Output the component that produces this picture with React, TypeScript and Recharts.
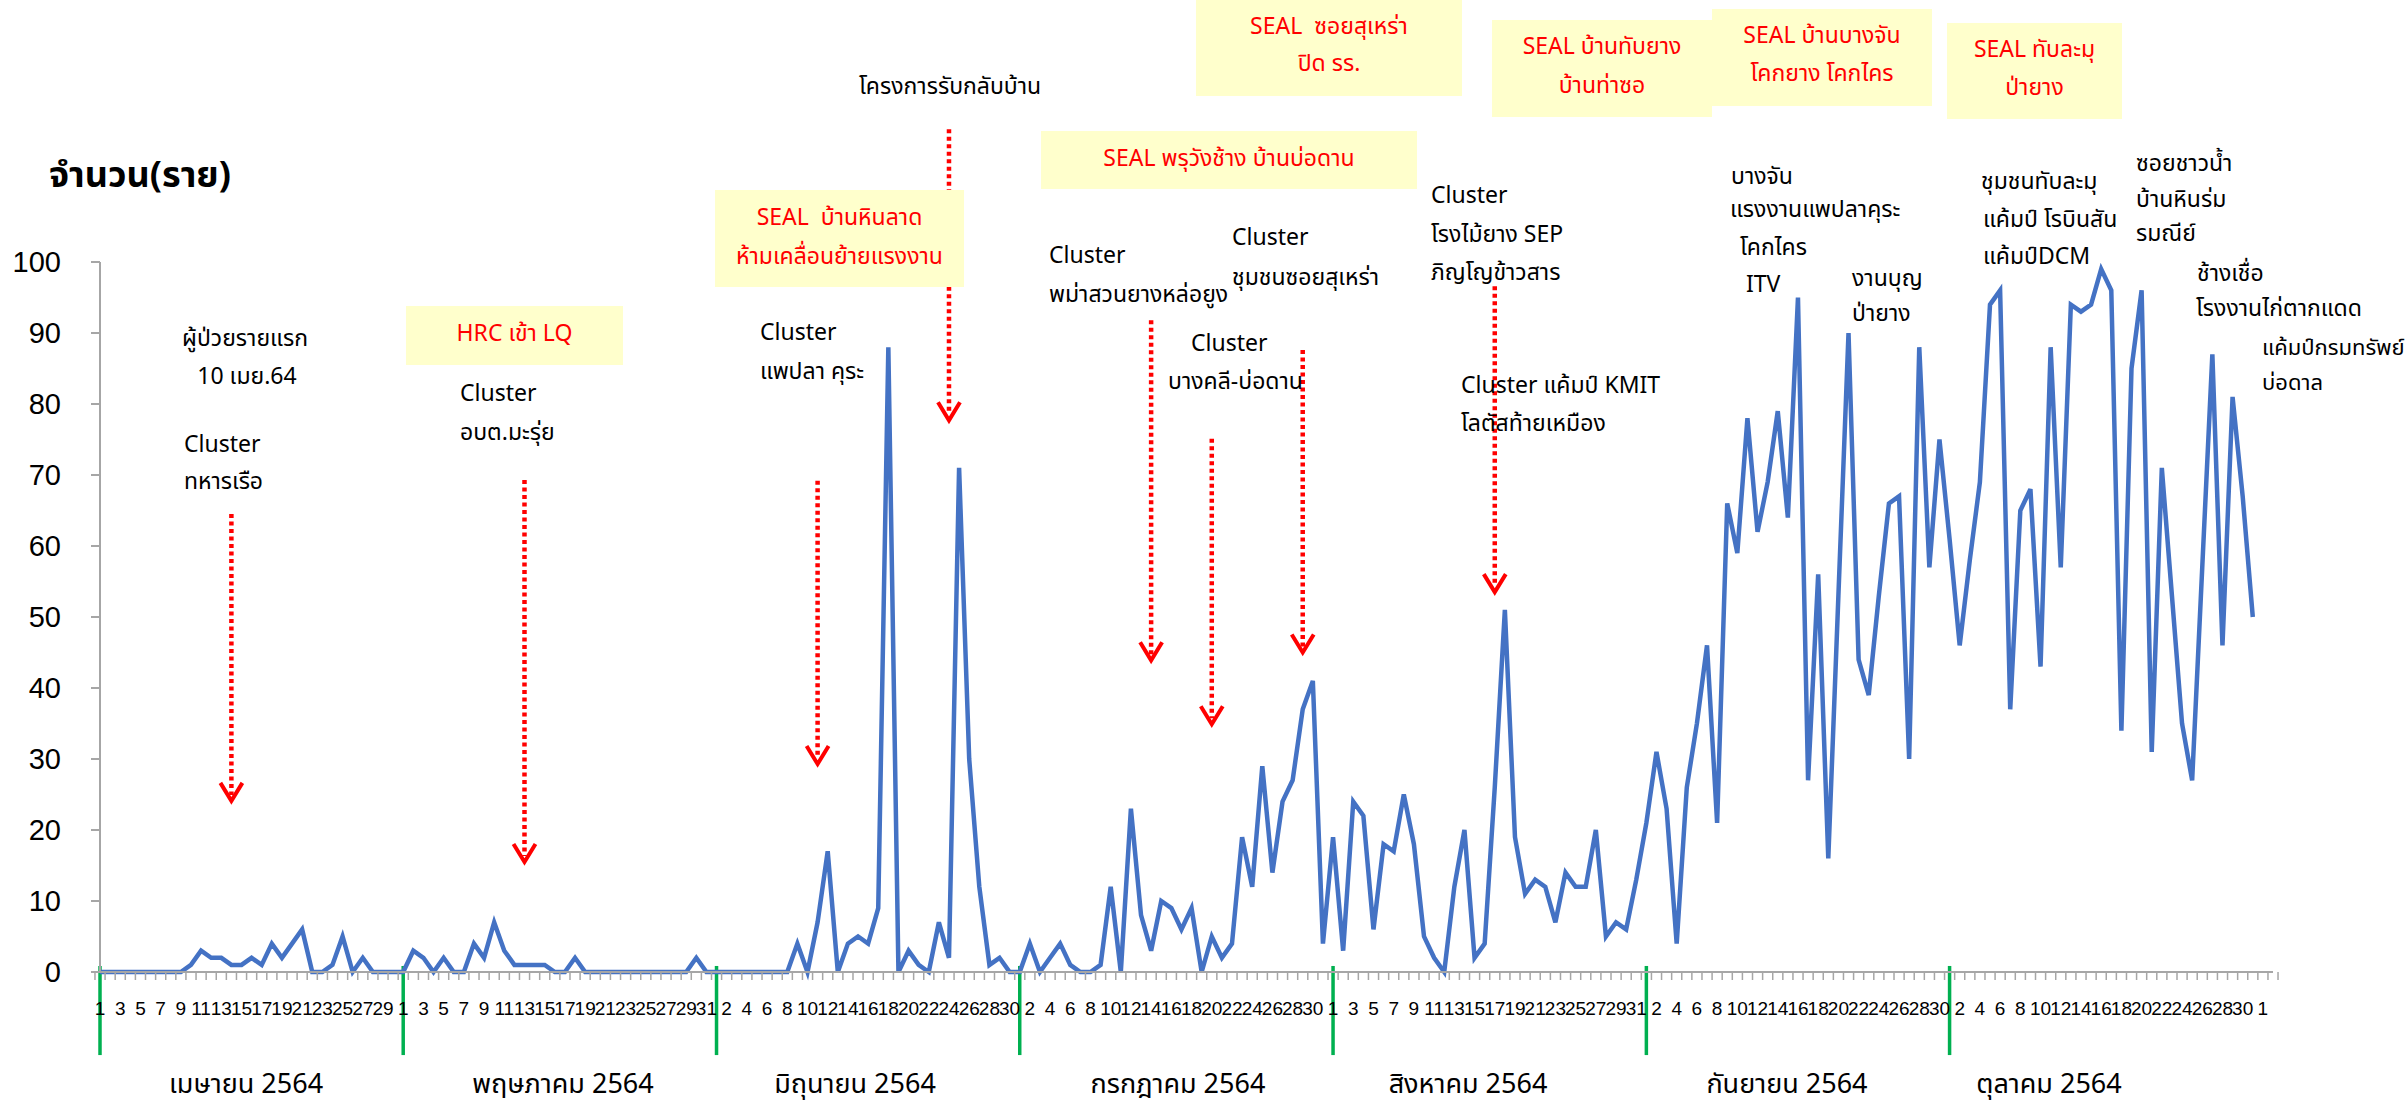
import React from 'react';
import { LineChart, Line, XAxis, YAxis, ReferenceLine } from 'recharts';

const W = 2405;
const H = 1109;
const FONT = "Tahoma, 'Leelawadee UI', 'Noto Sans Thai', 'Noto Sans', 'DejaVu Sans', sans-serif";
const NUM_FONT = "'Liberation Sans', Arial, sans-serif";
const AXIS_GREY = '#a6a6a6';
const RED = '#ff0000';
const LINE_BLUE = '#4472C4';
const GREEN = '#00B050';
const NOTE_BG = '#ffffcc';

// daily new cases, one array per month (Apr - Nov 2564)
const APR = [0, 0, 0, 0, 0, 0, 0, 0, 0, 1, 3, 2, 2, 1, 1, 2, 1, 4, 2, 4, 6, 0, 0, 1, 5, 0, 2, 0, 0, 0];
const MAY = [0, 3, 2, 0, 2, 0, 0, 4, 2, 7, 3, 1, 1, 1, 1, 0, 0, 2, 0, 0, 0, 0, 0, 0, 0, 0, 0, 0, 0, 2, 0];
const JUN = [0, 0, 0, 0, 0, 0, 0, 0, 4, 0, 7, 17, 0, 4, 5, 4, 9, 88, 0, 3, 1, 0, 7, 2, 71, 30, 12, 1, 2, 0];
const JUL = [0, 4, 0, 2, 4, 1, 0, 0, 1, 12, 0, 23, 8, 3, 10, 9, 6, 9, 0, 5, 2, 4, 19, 12, 29, 14, 24, 27, 37, 41, 4];
const AUG = [19, 3, 24, 22, 6, 18, 17, 25, 18, 5, 2, 0, 12, 20, 2, 4, 26, 51, 19, 11, 13, 12, 7, 14, 12, 12, 20, 5, 7, 6, 13];
const SEP = [21, 31, 23, 4, 26, 35, 46, 21, 66, 59, 78, 62, 69, 79, 64, 95, 27, 56, 16, 53, 90, 44, 39, 53, 66, 67, 30, 88, 57, 75];
const OCT = [61, 46, 58, 69, 94, 96, 37, 65, 68, 43, 88, 57, 94, 93, 94, 99, 96, 34, 85, 96, 31, 71, 53, 35, 27, 57, 87, 46, 81, 67, 50];
const NOV = [null, null];

const MONTH_NUMS = [4, 5, 6, 7, 8, 9, 10, 11];
const MONTH_SERIES: (number | null)[][] = [APR, MAY, JUN, JUL, AUG, SEP, OCT, NOV];
const MONTH_LABELS = ['เมษายน 2564', 'พฤษภาคม 2564', 'มิถุนายน 2564', 'กรกฎาคม 2564', 'สิงหาคม 2564', 'กันยายน 2564', 'ตุลาคม 2564'];
const MONTH_LABEL_X = [246, 563, 855, 1178, 1468, 1787, 2049];
const Y_TICKS = [0, 10, 20, 30, 40, 50, 60, 70, 80, 90, 100];

// dotted red arrows: category key, top value, tip value
const ARROWS = [
    { key: '4-14', from: 64.5, to: 24.1 },
    { key: '5-13', from: 69.3, to: 15.5 },
    { key: '6-11', from: 69.2, to: 29.3 },
    { key: '6-24', from: 118.7, to: 77.7 },
    { key: '7-14', from: 91.8, to: 43.9 },
    { key: '7-20', from: 75.1, to: 34.9 },
    { key: '7-29', from: 87.6, to: 45 },
    { key: '8-17', from: 96.6, to: 53.5 },
];

// yellow event boxes (red text)
const EVENT_BOXES = [
    { x: 406, y: 306, w: 217, h: 59, lines: ['HRC เข้า LQ'], ys: [334] },
    { x: 715, y: 190, w: 249, h: 97, lines: ['SEAL  บ้านหินลาด', 'ห้ามเคลื่อนย้ายแรงงาน'], ys: [218, 257] },
    { x: 1041, y: 131, w: 376, h: 58, lines: ['SEAL พรุวังช้าง บ้านบ่อดาน'], ys: [159] },
    { x: 1196, y: 0, w: 266, h: 96, lines: ['SEAL  ซอยสุเหร่า', 'ปิด รร.'], ys: [27, 64] },
    { x: 1492, y: 20, w: 220, h: 97, lines: ['SEAL บ้านทับยาง', 'บ้านท่าซอ'], ys: [47, 86] },
    { x: 1712, y: 9, w: 220, h: 97, lines: ['SEAL บ้านบางจัน', 'โคกยาง โคกไคร'], ys: [36, 74] },
    { x: 1947, y: 23, w: 175, h: 96, lines: ['SEAL ทับละมุ', 'ป่ายาง'], ys: [50, 88] },
];

// black cluster notes
const NOTES = [
    { x: 245, y: 339, text: 'ผู้ป่วยรายแรก', anchor: 'middle' },
    { x: 247, y: 377, text: '10 เมย.64', anchor: 'middle' },
    { x: 184, y: 445, text: 'Cluster' },
    { x: 184, y: 482, text: 'ทหารเรือ' },
    { x: 460, y: 394, text: 'Cluster' },
    { x: 460, y: 433, text: 'อบต.มะรุ่ย' },
    { x: 760, y: 333, text: 'Cluster' },
    { x: 760, y: 372, text: 'แพปลา คุระ' },
    { x: 859, y: 87, text: 'โครงการรับกลับบ้าน' },
    { x: 1049, y: 256, text: 'Cluster' },
    { x: 1049, y: 295, text: 'พม่าสวนยางหล่อยูง' },
    { x: 1232, y: 238, text: 'Cluster' },
    { x: 1232, y: 278, text: 'ชุมชนซอยสุเหร่า' },
    { x: 1191, y: 344, text: 'Cluster' },
    { x: 1168, y: 382, text: 'บางคลี-บ่อดาน' },
    { x: 1431, y: 196, text: 'Cluster' },
    { x: 1431, y: 235, text: 'โรงไม้ยาง SEP' },
    { x: 1431, y: 273, text: 'ภิญโญข้าวสาร' },
    { x: 1461, y: 386, text: 'Cluster แค้มป์ KMIT' },
    { x: 1461, y: 424, text: 'โลตัสท้ายเหมือง' },
    { x: 1731, y: 177, text: 'บางจัน' },
    { x: 1730, y: 210, text: 'แรงงานแพปลาคุระ' },
    { x: 1740, y: 248, text: 'โคกไคร' },
    { x: 1746, y: 285, text: 'ITV' },
    { x: 1852, y: 279, text: 'งานบุญ' },
    { x: 1852, y: 314, text: 'ป่ายาง' },
    { x: 1981, y: 182, text: 'ชุมชนทับละมุ' },
    { x: 1983, y: 220, text: 'แค้มป์ โรบินสัน' },
    { x: 1983, y: 257, text: 'แค้มป์DCM' },
    { x: 2136, y: 164, text: 'ซอยชาวน้ำ' },
    { x: 2136, y: 200, text: 'บ้านหินร่ม' },
    { x: 2136, y: 234, text: 'รมณีย์' },
    { x: 2197, y: 274, text: 'ช้างเชื่อ' },
    { x: 2196, y: 309, text: 'โรงงานไก่ตากแดด' },
    { x: 2262, y: 348, text: 'แค้มป์กรมทรัพย์', size: 22 },
    { x: 2262, y: 383, text: 'บ่อดาล', size: 22 },
];

const MARGIN = { top: 262, right: 132, bottom: 77, left: 30 };
const Y_AXIS_W = 70;
const X_AXIS_H = 60;

const data = MONTH_NUMS.flatMap((m, mi) =>
    MONTH_SERIES[mi].map((v, i) => ({ key: `${m}-${i + 1}`, cases: v }))
);
const PLOT_W = W - MARGIN.left - MARGIN.right - Y_AXIS_W;
const HALF_BAND = PLOT_W / data.length / 2;

const DayTick = (props: any) => {
    const { x, y, payload, index } = props;
    const day = String(payload.value).split('-')[1];
    return (
        <g>
            <line x1={x - HALF_BAND} x2={x - HALF_BAND} y1={y} y2={y + 8} stroke={AXIS_GREY} strokeWidth={1.5} />
            {index === data.length - 1 && (
                <line x1={x + HALF_BAND} x2={x + HALF_BAND} y1={y} y2={y + 8} stroke={AXIS_GREY} strokeWidth={1.5} />
            )}
            {index % 2 === 0 && (
                <text x={x} y={y + 36} textAnchor="middle" dominantBaseline="central" fontSize={19} fontFamily={NUM_FONT} fill="#000">
                    {day}
                </text>
            )}
        </g>
    );
};

const ArrowShape = (p: any) => {
    const { x1, y1, x2, y2 } = p;
    return (
        <g>
            <line x1={x1} y1={y1} x2={x2} y2={y2 - 6} stroke={RED} strokeWidth={4.5} strokeDasharray="4 3.5" />
            <polyline
                points={`${x2 - 11},${y2 - 18} ${x2},${y2} ${x2 + 11},${y2 - 18}`}
                fill="none"
                stroke={RED}
                strokeWidth={4}
            />
        </g>
    );
};

const App: React.FC = () => {
    return (
        <div style={{ position: 'absolute', left: 0, top: 0, width: W, height: H, background: '#fff', fontFamily: FONT }}>
            <LineChart width={W} height={H} data={data} margin={MARGIN}>
                <XAxis
                    dataKey="key"
                    interval={0}
                    tickSize={0}
                    tickMargin={0}
                    tickLine={false}
                    tick={<DayTick />}
                    axisLine={{ stroke: AXIS_GREY, strokeWidth: 2 }}
                    height={X_AXIS_H}
                />
                <YAxis
                    domain={[0, 100]}
                    ticks={Y_TICKS}
                    width={Y_AXIS_W}
                    tickSize={9}
                    tickMargin={30}
                    axisLine={{ stroke: AXIS_GREY, strokeWidth: 2 }}
                    tickLine={{ stroke: AXIS_GREY, strokeWidth: 2 }}
                    tick={{ fill: '#000', fontSize: 29, fontFamily: NUM_FONT }}
                />
                {MONTH_NUMS.slice(0, 7).map((m) => (
                    <ReferenceLine
                        key={`g${m}`}
                        segment={[{ x: `${m}-1`, y: 0.85 }, { x: `${m}-1`, y: -11.7 }]}
                        stroke={GREEN}
                        strokeWidth={3.5}
                        ifOverflow="visible"
                        position="end"
                    />
                ))}
                {ARROWS.map((a) => (
                    <ReferenceLine
                        key={`a${a.key}`}
                        segment={[{ x: a.key, y: a.from }, { x: a.key, y: a.to }]}
                        ifOverflow="visible"
                        shape={ArrowShape}
                    />
                ))}
                <Line
                    type="linear"
                    dataKey="cases"
                    stroke={LINE_BLUE}
                    strokeWidth={4.5}
                    dot={false}
                    activeDot={false}
                    isAnimationActive={false}
                />
            </LineChart>
            <svg width={W} height={H} style={{ position: 'absolute', left: 0, top: 0, pointerEvents: 'none' }}>
                <text x={49} y={176} dominantBaseline="central" fontSize={36} fontWeight={700} fontFamily={FONT} fill="#000">
                    จำนวน(ราย)
                </text>
                {EVENT_BOXES.map((b, i) => (
                    <g key={`b${i}`}>
                        <rect x={b.x} y={b.y} width={b.w} height={b.h} fill={NOTE_BG} />
                        {b.lines.map((t, j) => (
                            <text
                                key={j}
                                x={b.x + b.w / 2}
                                y={b.ys[j]}
                                textAnchor="middle"
                                dominantBaseline="central"
                                fontSize={23}
                                fontFamily={FONT}
                                fill={RED}
                                style={{ whiteSpace: 'pre' }}
                            >
                                {t}
                            </text>
                        ))}
                    </g>
                ))}
                {NOTES.map((n: any, i) => (
                    <text
                        key={`n${i}`}
                        x={n.x}
                        y={n.y}
                        textAnchor={n.anchor || 'start'}
                        dominantBaseline="central"
                        fontSize={n.size || 23}
                        fontFamily={FONT}
                        fill="#000"
                    >
                        {n.text}
                    </text>
                ))}
                {MONTH_LABELS.map((label, i) => (
                    <text
                        key={`m${i}`}
                        x={MONTH_LABEL_X[i]}
                        y={1084}
                        textAnchor="middle"
                        dominantBaseline="central"
                        fontSize={27}
                        fontFamily={FONT}
                        fill="#000"
                    >
                        {label}
                    </text>
                ))}
            </svg>
        </div>
    );
};

export default App;
